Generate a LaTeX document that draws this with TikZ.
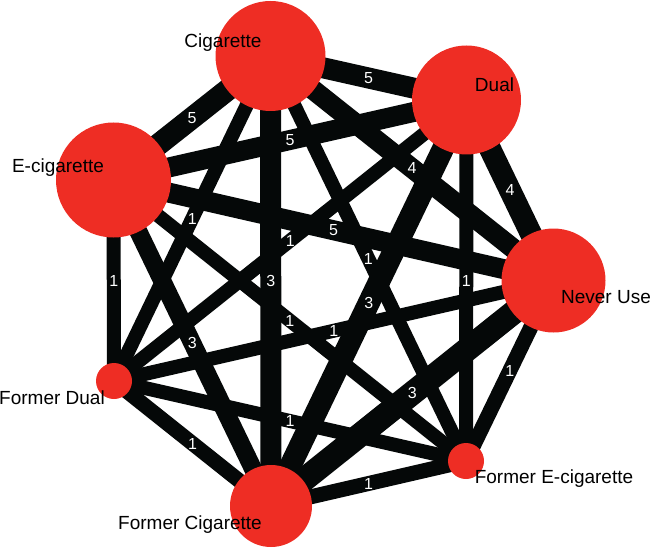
\documentclass[tikz,border=0pt]{standalone}
\usepackage{fontspec}
\setmainfont{Liberation Sans}
\usetikzlibrary{backgrounds}
\definecolor{nodered}{HTML}{EE2D24}
\definecolor{edgeblack}{HTML}{050808}
\begin{document}
\begin{tikzpicture}[x=1pt,y=-1pt,
  tnode/.style={circle,fill=nodered,inner sep=0pt,minimum size=#1},
  tlabel/.style={anchor=base,font=\fontsize{19}{19}\selectfont,text=black,inner sep=0pt},
  edge/.style={draw=edgeblack,line width=#1},
  elab/.style={font=\fontsize{16}{16}\selectfont,text=white,inner sep=0pt}]
\useasboundingbox (0,0) rectangle (652,548);
% nodes
\node[tnode=110] (C)  at (270.5,56) {};
\node[tnode=109] (D)  at (466.5,100) {};
\node[tnode=115] (E)  at (113.5,180) {};
\node[tnode=104] (N)  at (553.5,280.5) {};
\node[tnode=36]  (FD) at (114,381) {};
\node[tnode=82]  (FC) at (271,506) {};
\node[tnode=36]  (FE) at (466,461) {};
\begin{pgfonlayer}{background}
\draw[edge=21] (C.center) -- node[elab]{5} (D.center);
\draw[edge=22] (C.center) -- node[elab]{5} (E.center);
\draw[edge=20] (C.center) -- node[elab]{4} (N.center);
\draw[edge=14] (C.center) -- node[elab]{1} (FD.center);
\draw[edge=21] (C.center) -- node[elab]{3} (FC.center);
\draw[edge=14] (C.center) -- node[elab]{1} (FE.center);
\draw[edge=20] (D.center) -- node[elab]{5} (E.center);
\draw[edge=22] (D.center) -- node[elab]{4} (N.center);
\draw[edge=14] (D.center) -- node[elab]{1} (FD.center);
\draw[edge=22] (D.center) -- node[elab]{3} (FC.center);
\draw[edge=14] (D.center) -- node[elab]{1} (FE.center);
\draw[edge=20] (E.center) -- node[elab]{5} (N.center);
\draw[edge=14] (E.center) -- node[elab]{1} (FD.center);
\draw[edge=18] (E.center) -- node[elab]{3} (FC.center);
\draw[edge=14] (E.center) -- node[elab]{1} (FE.center);
\draw[edge=14] (N.center) -- node[elab]{1} (FD.center);
\draw[edge=24] (N.center) -- node[elab]{3} (FC.center);
\draw[edge=15] (N.center) -- node[elab]{1} (FE.center);
\draw[edge=15] (FD.center) -- node[elab]{1} (FC.center);
\draw[edge=14] (FD.center) -- node[elab]{1} (FE.center);
\draw[edge=15] (FC.center) -- node[elab]{1} (FE.center);
\end{pgfonlayer}
% labels
\node[tlabel] (lC)  at (223,48)  {Cigarette};
\node[tlabel] (lD)  at (494.5,92) {Dual};
\node[tlabel] (lE)  at (58,172)  {E-cigarette};
\node[tlabel] (lN)  at (606,303) {Never Use};
\node[tlabel] (lFD) at (52,404)  {Former Dual};
\node[tlabel] (lFC) at (190,529) {Former Cigarette};
\node[tlabel] (lFE) at (554,483) {Former E-cigarette};
\end{tikzpicture}
\end{document}
